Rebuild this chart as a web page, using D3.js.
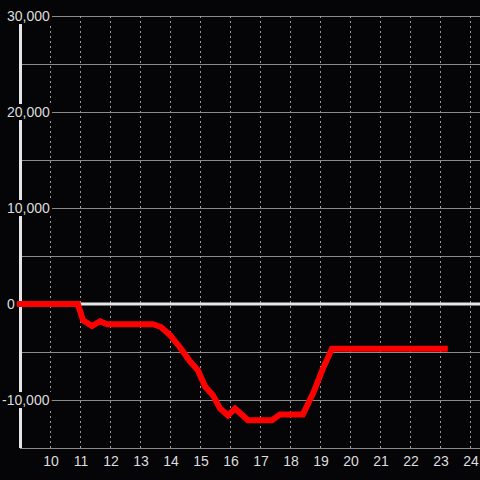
<!DOCTYPE html>
<html>
<head>
<meta charset="utf-8">
<script src="https://cdn.jsdelivr.net/npm/d3@7"></script>
<style>
  body { margin: 0; background: #050406; }
  svg { display: block; }
</style>
</head>
<body>
<script>
// data: hour of day vs value
let hours  = [9.0, 10.93, 11.1, 11.4, 11.67, 11.9, 13.43, 13.7, 14.0, 14.33, 14.67, 14.93, 15.17, 15.43, 15.67, 15.93, 16.17, 16.6, 17.4, 17.67, 18.43, 18.77, 19.1, 19.4, 23.16];
let values = [0, 0, -1700, -2300, -1800, -2100, -2100, -2400, -3250, -4500, -6000, -6900, -8600, -9500, -10900, -11600, -10900, -12100, -12100, -11500, -11500, -9300, -6700, -4650, -4650];

let xTicks = [10, 11, 12, 13, 14, 15, 16, 17, 18, 19, 20, 21, 22, 23, 24];
let yTicks = [30000, 20000, 10000, 0, -10000];
let yGrid  = [-15000, -10000, -5000, 5000, 10000, 15000, 20000, 25000, 30000];

let width = 480, height = 480;

let svg = d3.select("body").append("svg")
    .attr("width", width)
    .attr("height", height);

svg.append("rect")
    .attr("width", width)
    .attr("height", height)
    .attr("fill", "#050406");

let x = d3.scaleLinear().domain([9, 24 + 1 / 3]).range([20, 480]);
let y = d3.scaleLinear().domain([-15000, 30000]).range([448, 16]);

let fmt = d3.formatLocale({decimal: ".", thousands: ",", grouping: [3], currency: ["$", ""], minus: "-"}).format(",");

// horizontal grid
svg.append("g")
    .selectAll("line")
    .data(yGrid)
    .join("line")
    .attr("x1", x(9))
    .attr("x2", width)
    .attr("y1", d => y(d))
    .attr("y2", d => y(d))
    .attr("stroke", "#8a8a8a")
    .attr("stroke-width", 1)
    .attr("shape-rendering", "crispEdges");

// vertical dashed grid
svg.append("g")
    .selectAll("line")
    .data(xTicks)
    .join("line")
    .attr("x1", d => Math.round(x(d)) + 0.5)
    .attr("x2", d => Math.round(x(d)) + 0.5)
    .attr("y1", y(30000))
    .attr("y2", y(-15000))
    .attr("stroke", "#9a9a9a")
    .attr("stroke-width", 1)
    .attr("stroke-dasharray", "2,3");

// zero line
svg.append("line")
    .attr("x1", x(9))
    .attr("x2", width)
    .attr("y1", y(0))
    .attr("y2", y(0))
    .attr("stroke", "#e6e6e6")
    .attr("stroke-width", 3);

// y axis line
svg.append("line")
    .attr("x1", x(9) + 0.5)
    .attr("x2", x(9) + 0.5)
    .attr("y1", y(30000))
    .attr("y2", y(-15000))
    .attr("stroke", "#e6e6e6")
    .attr("stroke-width", 3);

// the series
let line = d3.line()
    .x((d, i) => x(hours[i]))
    .y(d => y(d));

svg.append("path")
    .datum(values)
    .attr("d", line)
    .attr("fill", "none")
    .attr("stroke", "#ff0000")
    .attr("stroke-width", 6)
    .attr("stroke-linejoin", "miter")
    .attr("stroke-linecap", "square");

// y labels with a dark box behind them
let yLab = svg.append("g")
    .selectAll("g")
    .data(yTicks)
    .join("g");

yLab.append("rect");
yLab.append("text")
    .attr("x", d => d < 0 ? 2 : 7)
    .attr("y", d => y(d))
    .attr("dy", "0.36em")
    .attr("fill", "#dddddd")
    .style("font-family", "'Liberation Sans', Arial, sans-serif")
    .style("font-size", "14px")
    .text(d => fmt(d));

yLab.each(function() {
    let t = d3.select(this).select("text").node().getBBox();
    d3.select(this).select("rect")
        .attr("x", t.x - 1)
        .attr("y", t.y)
        .attr("width", t.width + 3)
        .attr("height", t.height)
        .attr("fill", "#050406");
});

// x labels
svg.append("g")
    .selectAll("text")
    .data(xTicks)
    .join("text")
    .attr("x", d => x(d) + 1)
    .attr("y", 461)
    .attr("dy", "0.36em")
    .attr("text-anchor", "middle")
    .attr("fill", "#dddddd")
    .style("font-family", "'Liberation Sans', Arial, sans-serif")
    .style("font-size", "14px")
    .text(d => d);
</script>
</body>
</html>
